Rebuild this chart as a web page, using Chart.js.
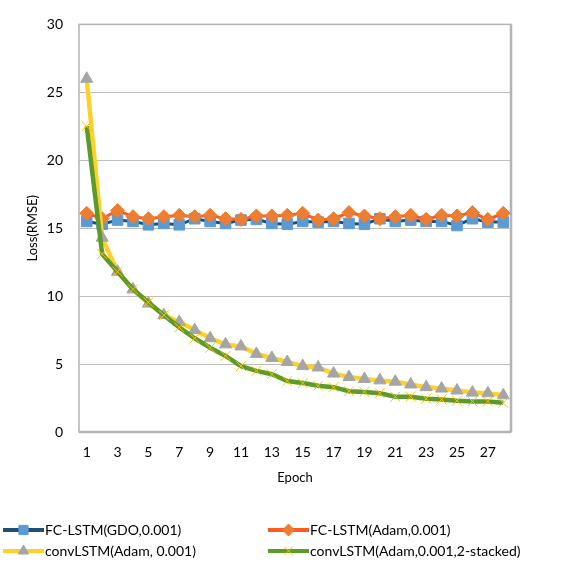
<!DOCTYPE html>
<html>
<head>
<meta charset="utf-8">
<title>Loss per epoch</title>
<script src="https://cdn.jsdelivr.net/npm/chart.js@4/dist/chart.umd.min.js"></script>
<style>
  body { margin: 0; background: #ffffff; }
</style>
</head>
<body>
<canvas id="lossChart" width="562" height="576"></canvas>
<script>
// epochs on the x axis
const epochs = ['1','2','3','4','5','6','7','8','9','10','11','12','13','14',
                '15','16','17','18','19','20','21','22','23','24','25','26','27','28'];

// RMSE loss per epoch
const fcGdo = [15.5,15.3,15.6,15.5,15.25,15.35,15.25,15.7,15.5,15.35,15.6,15.65,15.35,15.3,
               15.5,15.45,15.5,15.35,15.3,15.7,15.5,15.6,15.5,15.5,15.2,15.7,15.45,15.45];
const fcAdam = [16.1,15.7,16.3,15.85,15.7,15.85,15.95,15.85,15.95,15.7,15.65,15.9,15.9,15.95,
                16.1,15.6,15.7,16.15,15.9,15.7,15.85,15.95,15.65,15.95,15.9,16.15,15.65,16.1];
const convAdam = [26.0,14.3,11.8,10.5,9.45,8.6,8.1,7.5,6.9,6.45,6.3,5.75,5.45,5.15,
                  4.85,4.75,4.3,4.05,3.9,3.8,3.7,3.5,3.3,3.2,3.05,2.9,2.85,2.7];
const convStacked = [22.5,13.1,11.8,10.5,9.55,8.6,7.7,6.9,6.2,5.6,4.85,4.5,4.25,3.75,
                     3.6,3.4,3.3,3.0,2.95,2.85,2.6,2.6,2.45,2.4,2.3,2.25,2.25,2.15];

const seriesNames = ['FC-LSTM(GDO,0.001)', 'FC-LSTM(Adam,0.001)',
                     'convLSTM(Adam, 0.001)', 'convLSTM(Adam,0.001,2-stacked)'];

const FONT = 'Lato, "Open Sans", sans-serif';

// frame round the plot area (right edge is not an axis in Chart.js)
const plotFrame = {
    id: 'plotFrame',
    beforeDatasetsDraw(chart)
    {
        const a = chart.chartArea;
        const ctx = chart.ctx;
        ctx.save();
        ctx.strokeStyle = '#b4b4b4';
        ctx.lineWidth = 1.5;
        ctx.strokeRect(a.left, a.top, a.right - a.left, a.bottom - a.top);
        ctx.lineWidth = 2.5;
        ctx.beginPath();
        ctx.moveTo(a.left, a.bottom);
        ctx.lineTo(a.right, a.bottom);
        ctx.moveTo(a.right, a.top);
        ctx.lineTo(a.right, a.bottom);
        ctx.stroke();
        ctx.restore();
    }
};

// Excel style legend: two columns, line with marker in the middle
const gridLegend = {
    id: 'gridLegend',
    afterDraw(chart)
    {
        const ctx = chart.ctx;
        const cols = [3, 268];
        ctx.save();
        chart.data.datasets.forEach(function(ds, i)
        {
            const x0 = cols[i % 2];
            const y = 530 + Math.floor(i / 2) * 21;
            ctx.strokeStyle = ds.borderColor;
            ctx.lineWidth = 4;
            ctx.beginPath();
            ctx.moveTo(x0, y);
            ctx.lineTo(x0 + 41, y);
            ctx.stroke();
            ctx.fillStyle = ds.pointBackgroundColor;
            ctx.strokeStyle = ds.pointBorderColor;
            ctx.lineWidth = ds.pointBorderWidth;
            Chart.helpers.drawPoint(ctx, {
                pointStyle: ds.pointStyle,
                radius: ds.pointRadius - 1,
                rotation: 0,
                borderWidth: ds.pointBorderWidth
            }, x0 + 20.5, y);
            ctx.fillStyle = '#000000';
            ctx.font = '14px ' + FONT;
            ctx.textAlign = 'left';
            ctx.textBaseline = 'middle';
            ctx.fillText(ds.label, x0 + 42, y);
        });
        ctx.restore();
    }
};

let chartCanvas = document.getElementById('lossChart').getContext('2d');

let lossChart = new Chart(chartCanvas,
{
    type: 'line',
    data:
    {
        labels: epochs,
        datasets:
        [
            {
                label: seriesNames[0],
                data: fcGdo,
                borderColor: '#1f4e79',
                borderWidth: 3,
                pointStyle: 'rect',
                pointRadius: 7.5,
                pointBackgroundColor: '#5b9bd5',
                pointBorderColor: '#5b9bd5',
                pointBorderWidth: 1,
                order: 4
            },
            {
                label: seriesNames[1],
                data: fcAdam,
                borderColor: '#ff5a1e',
                borderWidth: 3,
                pointStyle: 'rectRot',
                pointRadius: 7,
                pointBackgroundColor: '#ed7d31',
                pointBorderColor: '#ed7d31',
                pointBorderWidth: 1,
                order: 3
            },
            {
                label: seriesNames[2],
                data: convAdam,
                borderColor: '#ffd02a',
                borderWidth: 4.5,
                pointStyle: 'triangle',
                pointRadius: 7,
                pointBackgroundColor: '#a5a5a5',
                pointBorderColor: '#a5a5a5',
                pointBorderWidth: 1,
                order: 2
            },
            {
                label: seriesNames[3],
                data: convStacked,
                borderColor: '#5a9b2a',
                borderWidth: 4.5,
                pointStyle: 'crossRot',
                pointRadius: 7,
                pointBackgroundColor: '#ffc000',
                pointBorderColor: '#ffc000',
                pointBorderWidth: 1,
                order: 1
            }
        ]
    },
    options:
    {
        responsive: false,
        animation: false,
        layout: { padding: { top: 18, right: 51, bottom: 86, left: 0 } },
        plugins:
        {
            legend: { display: false },
            tooltip: { enabled: false }
        },
        scales:
        {
            x:
            {
                offset: true,
                grid: { display: false, drawTicks: false },
                border: { display: false },
                ticks:
                {
                    autoSkip: false,
                    maxRotation: 0,
                    padding: 12,
                    color: '#000000',
                    font: { family: FONT, size: 14 },
                    callback: function(value, index) { return index % 2 === 0 ? epochs[index] : ''; }
                },
                title:
                {
                    display: true,
                    text: 'Epoch',
                    color: '#000000',
                    font: { family: FONT, size: 13 },
                    padding: { top: 0, bottom: 4 }
                },
                afterFit: function(scale) { scale.height = 58; }
            },
            y:
            {
                min: 0,
                max: 30,
                ticks:
                {
                    stepSize: 5,
                    padding: 16,
                    color: '#000000',
                    font: { family: FONT, size: 14 }
                },
                grid: { color: '#bebebe', lineWidth: 1, drawTicks: false },
                border: { display: false },
                title:
                {
                    display: true,
                    text: 'Loss(RMSE)',
                    color: '#000000',
                    font: { family: FONT, size: 13 },
                    padding: { top: 25, bottom: 0 }
                },
                afterFit: function(scale) { scale.width = 79; }
            }
        }
    },
    plugins: [plotFrame, gridLegend]
});
</script>
</body>
</html>
